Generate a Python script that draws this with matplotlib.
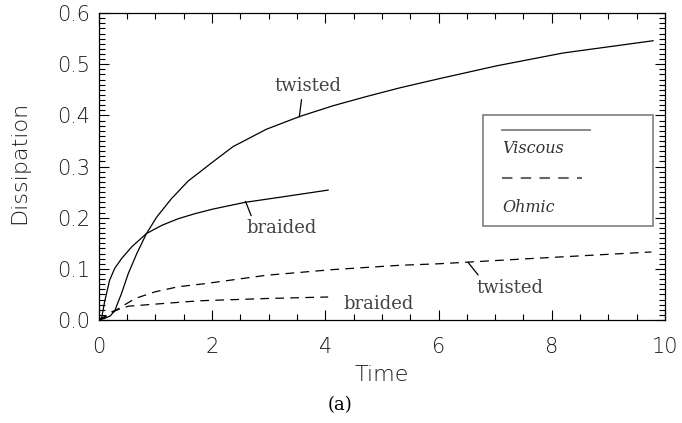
import matplotlib
matplotlib.use("Agg")
import matplotlib.pyplot as plt
from matplotlib.ticker import MultipleLocator, FormatStrFormatter

# viscous dissipation, twisted field
t_visc_twisted = [0.0, 0.1, 0.2, 0.28, 0.4, 0.52, 0.67, 0.84, 1.02, 1.28, 1.58, 1.78,
                  2.0, 2.37, 2.96, 3.55, 4.14, 4.73, 5.32, 6.02, 7.03, 8.2, 9.79]
d_visc_twisted = [0.0, 0.003, 0.008, 0.018, 0.052, 0.091, 0.13, 0.169, 0.201, 0.237,
                  0.272, 0.289, 0.308, 0.339, 0.373, 0.398, 0.419, 0.437, 0.454, 0.472,
                  0.497, 0.522, 0.546]

# viscous dissipation, braided field
t_visc_braided = [0.0, 0.05, 0.1, 0.19, 0.28, 0.4, 0.58, 0.84, 1.11, 1.4, 1.7, 2.02,
                  2.58, 3.2, 4.05]
d_visc_braided = [0.0, 0.005, 0.035, 0.078, 0.101, 0.12, 0.143, 0.169, 0.185, 0.198,
                  0.208, 0.217, 0.230, 0.240, 0.254]

# ohmic dissipation, twisted field
t_ohm_twisted = [0.0, 0.1, 0.2, 0.4, 0.64, 0.99, 1.4, 1.87, 2.96, 4.14, 5.32, 6.02,
                 7.61, 9.76]
d_ohm_twisted = [0.0, 0.005, 0.012, 0.026, 0.042, 0.055, 0.065, 0.071, 0.0875, 0.0986,
                 0.107, 0.110, 0.120, 0.133]

# ohmic dissipation, braided field
t_ohm_braided = [0.0, 0.1, 0.22, 0.52, 1.11, 1.78, 2.96, 4.05]
d_ohm_braided = [0.0, 0.007, 0.016, 0.027, 0.032, 0.0376, 0.042, 0.045]

sans = "DejaVu Sans"
serif = "DejaVu Serif"
ink = "#1a1a1a"

fig = plt.figure(figsize=(6.82, 4.23), dpi=100)
ax = fig.add_axes([0.145, 0.2435, 0.83, 0.7255])

ax.plot(t_visc_twisted, d_visc_twisted, color="black", lw=0.9)
ax.plot(t_visc_braided, d_visc_braided, color="black", lw=0.9)
ax.plot(t_ohm_twisted, d_ohm_twisted, color="black", lw=0.9, dashes=(7, 5))
ax.plot(t_ohm_braided, d_ohm_braided, color="black", lw=0.9, dashes=(7, 5))

ax.set_xlim(0, 10)
ax.set_ylim(0, 0.6)
ax.xaxis.set_major_locator(MultipleLocator(2))
ax.xaxis.set_minor_locator(MultipleLocator(0.5))
ax.yaxis.set_major_locator(MultipleLocator(0.1))
ax.yaxis.set_minor_locator(MultipleLocator(0.01))
ax.yaxis.set_major_formatter(FormatStrFormatter("%.1f"))
ax.tick_params(which="both", direction="in", top=True, right=True, width=0.8)
ax.tick_params(which="major", length=7, labelsize=15)
ax.tick_params(which="minor", length=4)
ax.tick_params(axis="x", which="major", pad=12)
ax.tick_params(axis="y", which="major", pad=6)
for lab in ax.get_xticklabels() + ax.get_yticklabels():
    lab.set_fontfamily(sans)
    lab.set_fontweight(200)
    lab.set_color(ink)
for sp in ax.spines.values():
    sp.set_linewidth(0.9)

ax.set_xlabel("Time", fontsize=16, family=sans, fontweight=200, color=ink, va="center")
ax.set_ylabel("Dissipation", fontsize=16, family=sans, fontweight=200, color=ink,
              va="center")
ax.xaxis.set_label_coords(0.5, -0.179)
ax.yaxis.set_label_coords(-0.14, 0.515)

# curve labels
ann = dict(fontsize=13, family=serif, color="#444444", ha="center", va="center")
line = dict(arrowstyle="-", color="black", lw=0.9, shrinkA=0, shrinkB=0)
ax.annotate("twisted", xy=(3.54, 0.397), xytext=(3.70, 0.457), **ann)
ax.annotate("", xy=(3.54, 0.397), xytext=(3.58, 0.431), arrowprops=line)
ax.annotate("braided", xy=(2.59, 0.232), xytext=(3.23, 0.179), **ann)
ax.annotate("", xy=(2.59, 0.232), xytext=(2.69, 0.204), arrowprops=line)
ax.annotate("twisted", xy=(6.52, 0.113), xytext=(7.26, 0.062), **ann)
ax.annotate("", xy=(6.52, 0.113), xytext=(6.70, 0.088), arrowprops=line)
ax.text(4.94, 0.031, "braided", **ann)

# legend box drawn like the original (line above label)
ax.add_patch(plt.Rectangle((0.678, 0.306), 0.301, 0.362, transform=ax.transAxes,
                           fill=False, edgecolor="#888888", lw=1.3))
ax.plot([0.712, 0.868], [0.619, 0.619], transform=ax.transAxes, color="#888888", lw=1.4)
ax.plot([0.712, 0.854], [0.463, 0.463], transform=ax.transAxes, color="#666666", lw=1.5,
        dashes=(5, 4))
ax.text(0.712, 0.560, "Viscous", transform=ax.transAxes, fontsize=11.5, family=serif,
        style="italic", color="#333333", va="center")
ax.text(0.712, 0.368, "Ohmic", transform=ax.transAxes, fontsize=11.5, family=serif,
        style="italic", color="#333333", va="center")

fig.text(0.4985, 0.043, "(a)", fontsize=13, family=serif, ha="center", va="center")

fig.savefig("out.png", dpi=100)
